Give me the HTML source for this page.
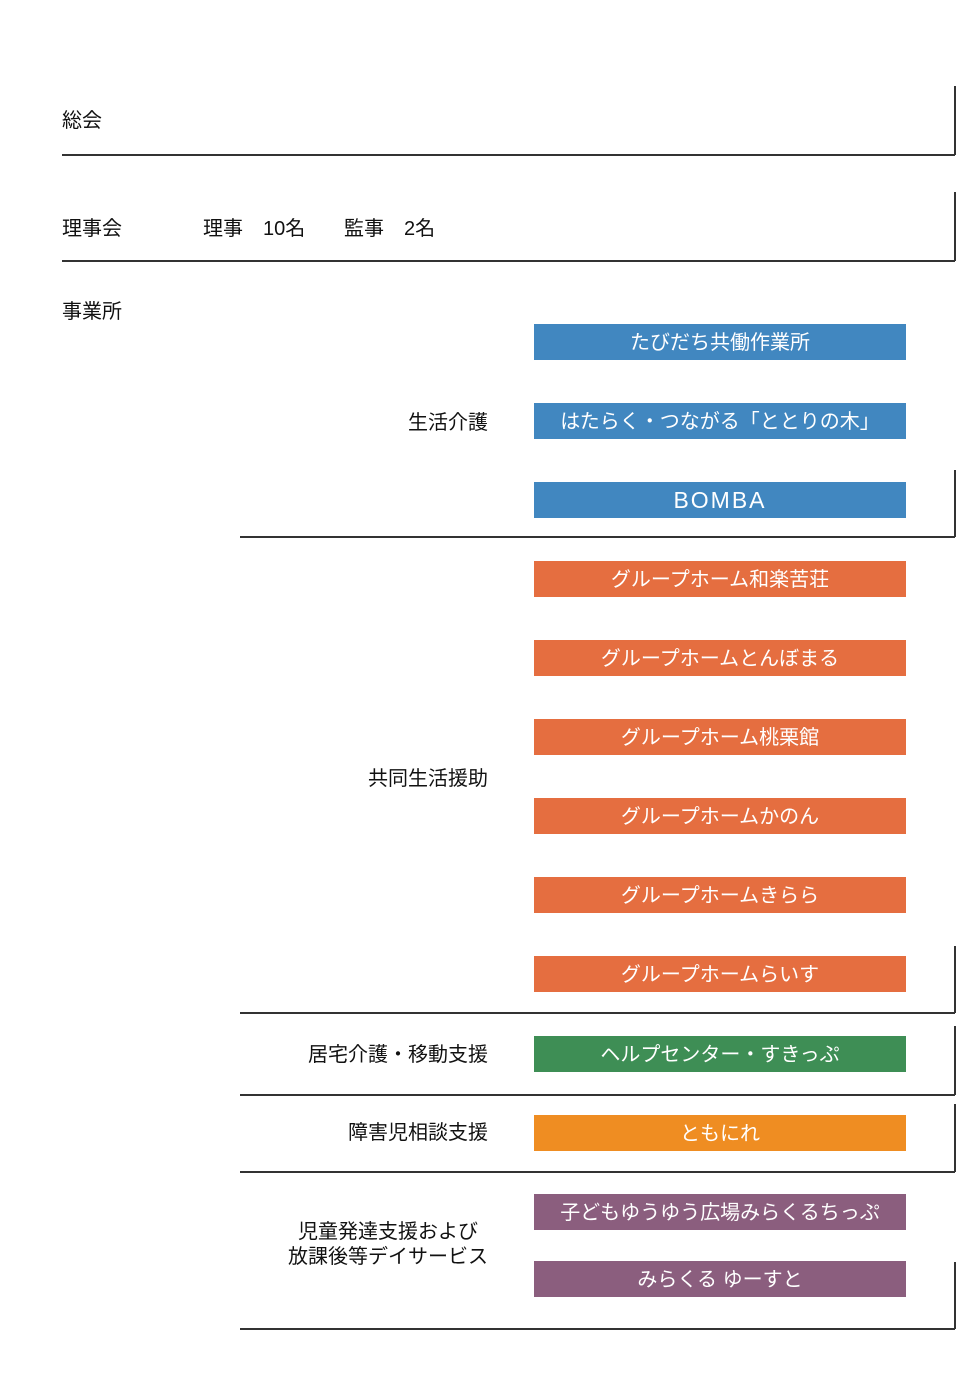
<!DOCTYPE html><html><head><meta charset="utf-8"><style>
body{margin:0;width:979px;height:1395px;background:#fff;position:relative;font-family:"Liberation Sans","Noto Sans CJK JP",sans-serif;overflow:hidden}
.t{position:absolute;font-size:20px;color:#111;white-space:nowrap;line-height:22px}
.r{right:491px;text-align:right}
.b{position:absolute;left:534px;width:372px;height:36px;color:#fff;font-size:20px;text-align:center;line-height:38px;white-space:nowrap}
.h{position:absolute;height:1.5px;background:#333;right:24px}
.v{position:absolute;width:1.5px;background:#333;left:954px}
</style></head><body>
<div class="t" style="left:62px;top:110px">総会</div>
<div class="t" style="left:62px;top:218px">理事会</div>
<div class="t" style="left:203px;top:218px">理事　10名</div>
<div class="t" style="left:344px;top:218px">監事　2名</div>
<div class="t" style="left:62px;top:301px">事業所</div>
<div class="t r" style="top:412px">生活介護</div>
<div class="t r" style="top:768px">共同生活援助</div>
<div class="t r" style="top:1044px">居宅介護・移動支援</div>
<div class="t r" style="top:1122px">障害児相談支援</div>
<div class="t r" style="top:1220px;text-align:center;line-height:25px">児童発達支援および<br>放課後等デイサービス</div>

<div class="h" style="left:62px;top:154px"></div><div class="v" style="top:86px;height:69px"></div>
<div class="h" style="left:62px;top:260px"></div><div class="v" style="top:192px;height:69px"></div>
<div class="h" style="left:240px;top:536px"></div><div class="v" style="top:470px;height:67px"></div>
<div class="h" style="left:240px;top:1012px"></div><div class="v" style="top:946px;height:67px"></div>
<div class="h" style="left:240px;top:1094px"></div><div class="v" style="top:1026px;height:69px"></div>
<div class="h" style="left:240px;top:1171px"></div><div class="v" style="top:1104px;height:68px"></div>
<div class="h" style="left:240px;top:1328px"></div><div class="v" style="top:1262px;height:67px"></div>

<div class="b" style="top:324px;background:#4187c0">たびだち共働作業所</div>
<div class="b" style="top:403px;background:#4187c0">はたらく・つながる「ととりの木」</div>
<div class="b" style="top:482px;background:#4187c0;font-size:23px;letter-spacing:2px;line-height:37px">BOMBA</div>
<div class="b" style="top:561px;background:#e56e40">グループホーム和楽苦荘</div>
<div class="b" style="top:640px;background:#e56e40">グループホームとんぼまる</div>
<div class="b" style="top:719px;background:#e56e40">グループホーム桃栗館</div>
<div class="b" style="top:798px;background:#e56e40">グループホームかのん</div>
<div class="b" style="top:877px;background:#e56e40">グループホームきらら</div>
<div class="b" style="top:956px;background:#e56e40">グループホームらいす</div>
<div class="b" style="top:1036px;background:#3e8e55">ヘルプセンター・すきっぷ</div>
<div class="b" style="top:1115px;background:#ef8d22">ともにれ</div>
<div class="b" style="top:1194px;background:#8b5e7e">子どもゆうゆう広場みらくるちっぷ</div>
<div class="b" style="top:1261px;background:#8b5e7e">みらくる ゆーすと</div>
</body></html>
